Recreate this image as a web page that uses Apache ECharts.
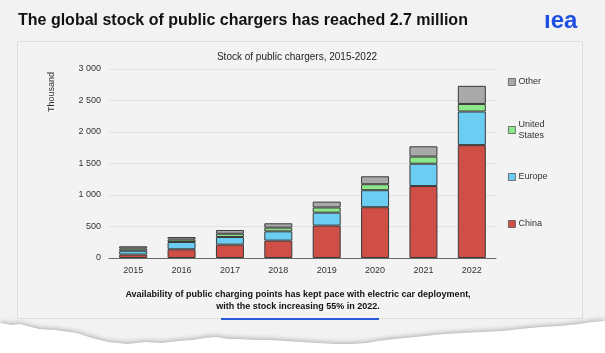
<!DOCTYPE html>
<html>
<head>
<meta charset="utf-8">
<script src="https://cdn.jsdelivr.net/npm/echarts@6/dist/echarts.min.js"></script>
<style>
html,body{margin:0;padding:0;background:#f2f2f2;}
#chart{width:605px;height:353px;}
</style>
</head>
<body>
<div id="chart"></div>
<script>
// ---- data (thousand chargers) ----
const years = ['2015','2016','2017','2018','2019','2020','2021','2022'];
const china = [55, 138, 212, 276, 514, 806, 1142, 1792];
const europe = [60, 116, 121, 147, 206, 270, 355, 533];
const unitedStates = [35, 38, 52, 59, 82, 95, 113, 120];
const other = [36, 41, 59, 69, 93, 126, 163, 288];
const yTicks = [0, 500, 1000, 1500, 2000, 2500, 3000];

const title = 'The global stock of public chargers has reached 2.7 million';
const subtitle = 'Stock of public chargers, 2015-2022';
const caption = 'Availability of public charging points has kept pace with electric car deployment,\nwith the stock increasing 55% in 2022.';

const colors = {China:'#cf4f47', Europe:'#6ccdf2', 'United States':'#8de88a', Other:'#a9a9a9'};
const FONT = '"Liberation Sans", Arial, sans-serif';

const chart = echarts.init(document.getElementById('chart'), null, {renderer:'canvas'});

function bar(name, data){
  return {
    name, type:'bar', stack:'total', data, barWidth:28,
    itemStyle:{color:colors[name], borderColor:'#3a3a3a', borderWidth:1},
    emphasis:{disabled:true}
  };
}
function legendItem(name, top, extra){
  return Object.assign({
    data:[name], orient:'vertical', left:508, top, padding:0,
    icon:'rect', itemWidth:7, itemHeight:7, itemGap:0,
    itemStyle:{borderWidth:0.8, borderColor:'#555'},
    textStyle:{fontFamily:FONT, fontSize:9, color:'#333', lineHeight:11, padding:[0,0,0,-2]}
  }, extra||{});
}

// torn paper edge (decoration)
const torn = [[0,323],[12,325],[20,324],[39,329],[55,330],[77,333],[92,338],[108,342],[118,343],[127,344],[145,342],[162,343],[178,341],[193,340],[205,338],[216,337],[228,339],[239,339],[255,340],[270,340],[286,341],[301,342],[318,343],[336,344],[352,344],[367,343],[378,341],[386,340],[405,338],[425,336],[444,334],[463,333],[482,332],[502,331],[520,329],[541,327],[560,326],[579,324],[592,322],[605,321],[605,353],[0,353]];

chart.setOption({
  backgroundColor:'#f2f2f2',
  animation:false,
  textStyle:{fontFamily:FONT},
  grid:{left:109, right:109, top:69, bottom:95, containLabel:false},
  xAxis:{
    type:'category', data:years,
    axisLine:{lineStyle:{color:'#6a6a6a', width:1}},
    axisTick:{show:false},
    axisLabel:{fontSize:9, color:'#333', margin:8, fontFamily:FONT}
  },
  yAxis:{
    type:'value', min:yTicks[0], max:yTicks[yTicks.length-1], interval:500,
    axisLine:{show:false}, axisTick:{show:false},
    splitLine:{lineStyle:{color:'#e2e2e2', width:1}},
    axisLabel:{fontSize:9, color:'#333', margin:8, fontFamily:FONT,
      formatter:v=>String(v).replace(/\B(?=(\d{3})+(?!\d))/g,' ')}
  },
  legend:[
    legendItem('Other', 76.5),
    legendItem('United States', 113.5, {formatter:()=> 'United\nStates',
      textStyle:{fontFamily:FONT, fontSize:9, color:'#333', lineHeight:11, padding:[11,0,0,-2]}}),
    legendItem('Europe', 171.5),
    legendItem('China', 218.5)
  ],
  series:[
    bar('China', china),
    bar('Europe', europe),
    bar('United States', unitedStates),
    bar('Other', other)
  ],
  graphic:[
    {type:'rect', z:-10, shape:{x:17.5, y:41.5, width:565, height:277}, style:{fill:'#f3f3f3', stroke:'#dedede', lineWidth:1}},
    {type:'text', left:18, top:13, style:{text:title, font:'bold 16px '+FONT, fill:'#111'}},
    {type:'text', left:544, top:9, style:{text:'ıea', font:'bold 24px '+FONT, fill:'#1d4fe2'}},
    {type:'text', x:297, y:57, style:{text:subtitle, font:'10px '+FONT, fill:'#222', align:'center', verticalAlign:'middle'}},
    {type:'text', x:52, y:92, rotation:Math.PI/2, style:{text:'Thousand', font:'9px '+FONT, fill:'#333', align:'center', verticalAlign:'middle'}},
    {type:'text', x:298, y:301, style:{text:caption, font:'bold 9px '+FONT, fill:'#111', align:'center', verticalAlign:'middle', lineHeight:12}},
    {type:'rect', shape:{x:221, y:318, width:158, height:2}, style:{fill:'#2b5bd8'}},
    {type:'polygon', z:10, shape:{points:torn}, style:{fill:'#ffffff', shadowBlur:5, shadowColor:'rgba(0,0,0,0.3)', shadowOffsetY:-1}}
  ]
});
</script>
</body>
</html>
